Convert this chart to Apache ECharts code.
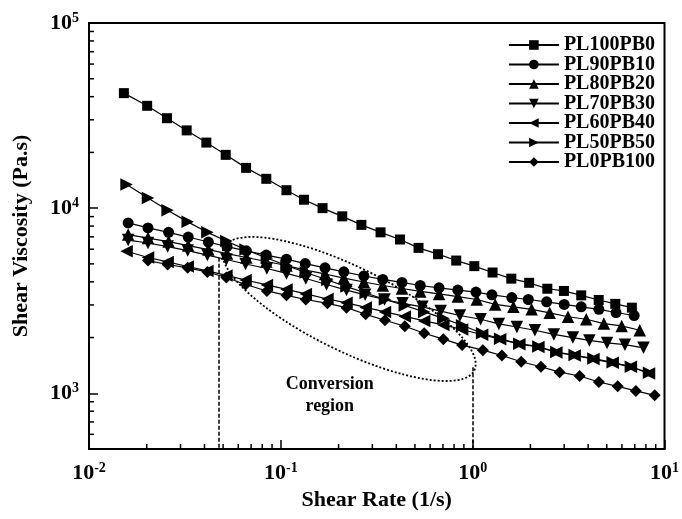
<!DOCTYPE html>
<html>
<head>
<meta charset="utf-8">
<script src="https://cdn.jsdelivr.net/npm/echarts@6/dist/echarts.min.js"></script>
<style>
  html, body { margin: 0; padding: 0; background: #fff; }
  #chart { width: 682px; height: 519px; }
</style>
</head>
<body>
<div id="chart"></div>
<script>
// shear rate (1/s) and shear viscosity (Pa.s)
const rate100 = [0.0152, 0.0201, 0.0255, 0.0323, 0.0409, 0.0516, 0.0659, 0.0840, 0.107, 0.132, 0.165, 0.209, 0.263, 0.331, 0.418, 0.522, 0.660, 0.821, 1.02, 1.27, 1.59, 1.97, 2.45, 2.99, 3.68, 4.54, 5.54, 6.76]
const visc100 = [41800, 35700, 30600, 26300, 22600, 19400, 16500, 14400, 12500, 11100, 10000, 9030, 8120, 7400, 6770, 6100, 5640, 5210, 4860, 4490, 4160, 3950, 3670, 3570, 3380, 3190, 3040, 2900]

const rate90 = [0.0160, 0.0203, 0.0260, 0.0329, 0.0419, 0.0524, 0.0661, 0.0840, 0.107, 0.134, 0.170, 0.213, 0.271, 0.340, 0.428, 0.533, 0.668, 0.837, 1.04, 1.26, 1.60, 1.95, 2.43, 3.00, 3.68, 4.55, 5.59, 6.95]
const visc90 = [8320, 7820, 7400, 6980, 6560, 6200, 5880, 5580, 5300, 5020, 4760, 4530, 4300, 4120, 3970, 3820, 3710, 3610, 3520, 3400, 3290, 3210, 3120, 3020, 2930, 2840, 2730, 2630]

const rate80 = [0.0160, 0.0203, 0.0260, 0.0329, 0.0419, 0.0524, 0.0661, 0.0840, 0.107, 0.134, 0.170, 0.213, 0.271, 0.340, 0.428, 0.533, 0.668, 0.837, 1.05, 1.31, 1.63, 2.03, 2.52, 3.14, 3.91, 4.83, 5.98, 7.43]
const visc80 = [7200, 6890, 6600, 6280, 5970, 5680, 5410, 5150, 4900, 4630, 4410, 4190, 3990, 3820, 3680, 3550, 3440, 3330, 3210, 3020, 2930, 2840, 2720, 2590, 2510, 2380, 2310, 2190]

const rate70 = [0.0160, 0.0203, 0.0257, 0.0327, 0.0414, 0.0520, 0.0655, 0.0846, 0.107, 0.135, 0.173, 0.220, 0.275, 0.347, 0.431, 0.547, 0.681, 0.858, 1.10, 1.37, 1.70, 2.11, 2.65, 3.33, 4.06, 5.02, 6.22, 7.77]
const visc70 = [6720, 6480, 6200, 5900, 5580, 5280, 4990, 4720, 4440, 4170, 3870, 3610, 3400, 3210, 3060, 2930, 2780, 2630, 2510, 2370, 2280, 2190, 2080, 2000, 1930, 1870, 1830, 1760]

const rate60 = [0.0157, 0.0203, 0.0257, 0.0327, 0.0414, 0.0520, 0.0655, 0.0846, 0.107, 0.135, 0.175, 0.220, 0.277, 0.349, 0.443, 0.559, 0.703, 0.881, 1.12, 1.39, 1.75, 2.20, 2.73, 3.40, 4.26, 5.37, 6.68, 8.30]
const visc60 = [5850, 5410, 5120, 4840, 4580, 4330, 4090, 3850, 3640, 3440, 3230, 3080, 2910, 2750, 2600, 2460, 2340, 2210, 2070, 1960, 1840, 1780, 1660, 1600, 1530, 1460, 1390, 1280]

const rate50 = [0.0157, 0.0203, 0.0257, 0.0327, 0.0414, 0.0520, 0.0655, 0.0846, 0.107, 0.135, 0.175, 0.220, 0.277, 0.349, 0.443, 0.559, 0.703, 0.881, 1.12, 1.39, 1.75, 2.20, 2.73, 3.40, 4.26, 5.37, 6.68, 8.30]
const visc50 = [13400, 11350, 9730, 8430, 7400, 6640, 5970, 5380, 4900, 4490, 4090, 3770, 3480, 3210, 2980, 2750, 2540, 2330, 2110, 1970, 1850, 1790, 1670, 1610, 1540, 1470, 1390, 1290]

const rate0 = [0.0203, 0.0257, 0.0327, 0.0414, 0.0520, 0.0655, 0.0846, 0.107, 0.135, 0.175, 0.220, 0.277, 0.349, 0.443, 0.559, 0.703, 0.881, 1.13, 1.42, 1.79, 2.27, 2.84, 3.61, 4.55, 5.70, 7.09, 8.89]
const visc0 = [5210, 4960, 4760, 4520, 4220, 3870, 3570, 3380, 3210, 3060, 2900, 2670, 2480, 2300, 2110, 1960, 1820, 1710, 1600, 1480, 1390, 1300, 1240, 1150, 1090, 1030, 975]

const seriesNames = ['PL100PB0', 'PL90PB10', 'PL80PB20', 'PL70PB30', 'PL60PB40', 'PL50PB50', 'PL0PB100']

// minor tick values on both log axes
const xMinorTicks = [0.02, 0.03, 0.04, 0.05, 0.06, 0.07, 0.08, 0.09, 0.2, 0.3, 0.4, 0.5, 0.6, 0.7, 0.8, 0.9, 2, 3, 4, 5, 6, 7, 8, 9]
const yMinorTicks = [600, 700, 800, 900, 2000, 3000, 4000, 5000, 6000, 7000, 8000, 9000, 20000, 30000, 40000, 50000, 60000, 70000, 80000, 90000]

// dashed guide lines of the conversion region
const guideRates = [0.0477, 1.0]
const guideTops = [5400, 1380]

const xMin = 0.01
const xMax = 10
const yMin = 500
const yMax = 100000

const FONT = "'Liberation Serif', 'Times New Roman', serif"

function zip(xs, ys) {
  return xs.map((x, i) => [x, ys[i]])
}

function powLabel(v) {
  const e = Math.round(Math.log10(v))
  if (Math.abs(v - Math.pow(10, e)) / v > 1e-6) return ''
  return '{b|10}{s|' + e + '}'
}

const labelRich = {
  b: { fontFamily: FONT, fontWeight: 'bold', fontSize: 22, color: '#000', lineHeight: 24 },
  s: { fontFamily: FONT, fontWeight: 'bold', fontSize: 14, color: '#000', verticalAlign: 'top', lineHeight: 13 }
}

const chart = echarts.init(document.getElementById('chart'))

function lineSeries(name, xs, ys, symbol, size, rotate) {
  return {
    name: name,
    type: 'line',
    data: zip(xs, ys),
    symbol: symbol,
    symbolSize: size,
    symbolRotate: rotate || 0,
    showAllSymbol: true,
    lineStyle: { color: '#000', width: 1.2 },
    itemStyle: { color: '#000' },
    z: 3
  }
}

const option = {
  animation: false,
  backgroundColor: '#fff',
  grid: {
    left: 89, right: 13, top: 23, bottom: 70,
    show: true, borderColor: '#000', borderWidth: 2, backgroundColor: 'transparent'
  },
  legend: {
    data: seriesNames,
    orient: 'vertical',
    left: 508,
    top: 35,
    padding: 0,
    itemWidth: 50,
    itemHeight: 12,
    itemGap: -0.5,
    lineStyle: { width: 1.8 },
    textStyle: { fontFamily: FONT, fontWeight: 'bold', fontSize: 20, lineHeight: 18, color: '#000' }
  },
  xAxis: {
    type: 'log',
    min: xMin,
    max: xMax,
    name: 'Shear Rate (1/s)',
    nameLocation: 'middle',
    nameGap: 40,
    nameTextStyle: { fontFamily: FONT, fontWeight: 'bold', fontSize: 22, color: '#000' },
    axisLine: { lineStyle: { color: '#000', width: 2 } },
    axisTick: { inside: true, length: 9, lineStyle: { color: '#000', width: 1.5 } },
    axisLabel: { formatter: powLabel, margin: 12, rich: labelRich },
    splitLine: { show: false }
  },
  yAxis: {
    type: 'log',
    min: yMin,
    max: yMax,
    name: 'Shear Viscosity (Pa.s)',
    nameLocation: 'middle',
    nameGap: 57,
    nameTextStyle: { fontFamily: FONT, fontWeight: 'bold', fontSize: 22, color: '#000' },
    axisLine: { lineStyle: { color: '#000', width: 2 } },
    axisTick: { inside: true, length: 9, lineStyle: { color: '#000', width: 1.5 } },
    axisLabel: { formatter: powLabel, margin: 10, rich: labelRich },
    splitLine: { show: false }
  },
  series: [
    lineSeries(seriesNames[0], rate100, visc100, 'rect', 10),
    lineSeries(seriesNames[1], rate90, visc90, 'circle', 11),
    lineSeries(seriesNames[2], rate80, visc80, 'triangle', 12.5),
    lineSeries(seriesNames[3], rate70, visc70, 'triangle', 12.5, 180),
    lineSeries(seriesNames[4], rate60, visc60, 'triangle', 12.5, 90),
    lineSeries(seriesNames[5], rate50, visc50, 'triangle', 12.5, -90),
    Object.assign(lineSeries(seriesNames[6], rate0, visc0, 'diamond', 12), {
      markLine: {
        silent: true,
        symbol: 'none',
        label: { show: false },
        lineStyle: { color: '#000', width: 1.5, type: [4, 2] },
        data: guideRates.map((r, i) => [{ coord: [r, guideTops[i]] }, { coord: [r, yMin] }])
      }
    }),
    {
      name: 'minor',
      type: 'custom',
      silent: true,
      z: 4,
      data: xMinorTicks.map(v => [v, yMin, 0]).concat(yMinorTicks.map(v => [xMin, v, 1])),
      encode: { x: 0, y: 1 },
      renderItem: function (params, api) {
        const p = api.coord([api.value(0), api.value(1)])
        const horiz = api.value(2) === 1
        return {
          type: 'line',
          shape: horiz
            ? { x1: p[0], y1: p[1], x2: p[0] + 5, y2: p[1] }
            : { x1: p[0], y1: p[1], x2: p[0], y2: p[1] - 5 },
          style: { stroke: '#000', lineWidth: 1.5 }
        }
      }
    }
  ]
}

chart.setOption(option)

// conversion-region ellipse and caption, placed from data coordinates
const pL = chart.convertToPixel({ gridIndex: 0 }, [0.0505, 6120])
const pR = chart.convertToPixel({ gridIndex: 0 }, [1.02, 1330])
const pText = chart.convertToPixel({ gridIndex: 0 }, [0.18, 980])
const cx = (pL[0] + pR[0]) / 2
const cy = (pL[1] + pR[1]) / 2
const ang = Math.atan2(pR[1] - pL[1], pR[0] - pL[0])
const semi = Math.hypot(pR[0] - pL[0], pR[1] - pL[1]) / 2

chart.setOption({
  graphic: [
    {
      type: 'ellipse',
      x: cx,
      y: cy,
      rotation: -ang,
      z: 1,
      silent: true,
      shape: { cx: 0, cy: 0, rx: semi, ry: 42 },
      style: { fill: 'none', stroke: '#000', lineWidth: 1.8, lineDash: [2, 2] }
    },
    {
      type: 'text',
      x: pText[0],
      y: pText[1],
      z: 5,
      silent: true,
      style: {
        text: 'Conversion\nregion',
        fontFamily: FONT,
        fontWeight: 'bold',
        fontSize: 18,
        lineHeight: 22,
        fill: '#000',
        align: 'center',
        verticalAlign: 'middle'
      }
    }
  ]
})

window.addEventListener('resize', () => chart.resize())
</script>
</body>
</html>
